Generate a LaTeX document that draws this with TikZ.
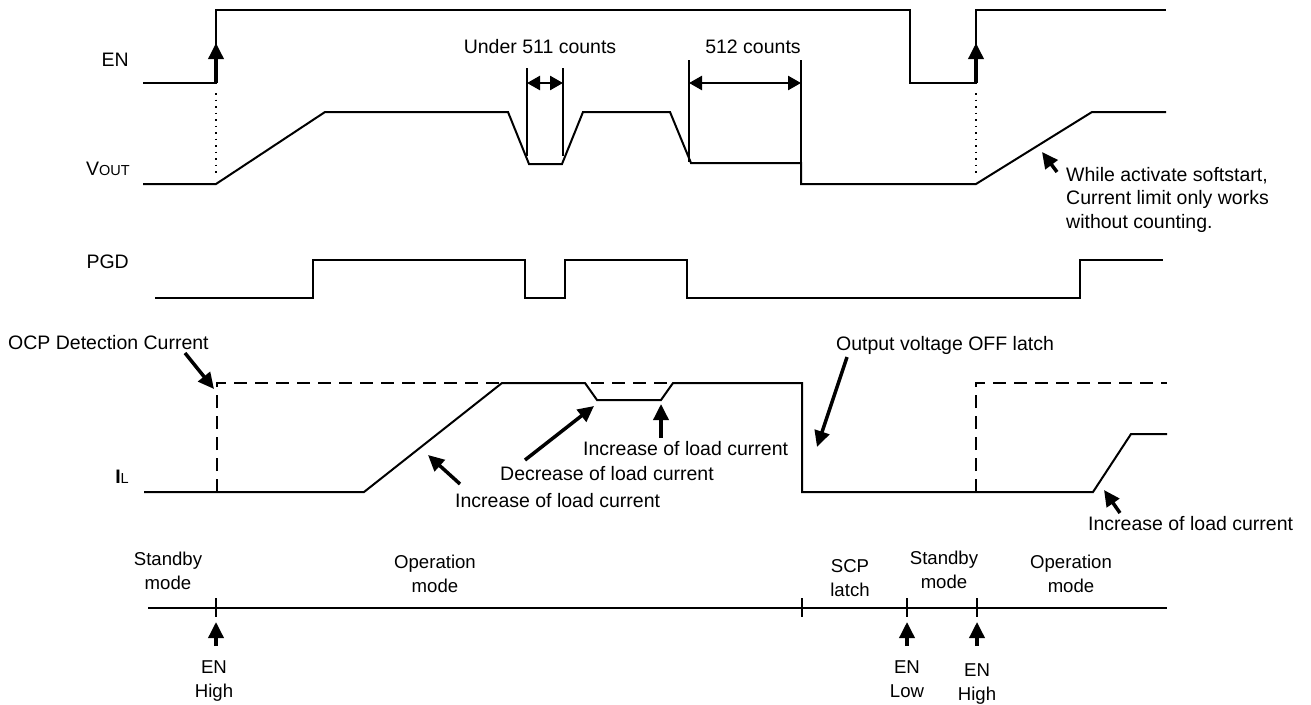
\documentclass[tikz,border=0pt]{standalone}
\usepackage{fontspec}
\setmainfont{Liberation Sans}
\usetikzlibrary{arrows.meta}
\newcommand{\mainsize}{\fontsize{19.5}{23.5}\selectfont}
\newcommand{\modesize}{\fontsize{18.6}{24}\selectfont}
\newcommand{\subtxt}[1]{{\fontsize{14.5}{14.5}\selectfont #1}}

\begin{document}
\begin{tikzpicture}[x=1pt,y=-1pt,font=\mainsize,
  sig/.style={line width=2pt,line join=miter},
  ocp/.style={line width=2pt,dash pattern=on 13pt off 8pt},
  vdot/.style={line width=1.5pt,dash pattern=on 1.5pt off 5pt},
  callout/.style={-{Triangle[length=16pt,width=15pt]},line width=3.5pt},
  span/.style={{Triangle[length=13pt,width=14pt]}-{Triangle[length=13pt,width=14pt]},line width=2.5pt},
  lbl/.style={inner sep=0pt},
  md/.style={inner sep=0pt,align=center,anchor=north,font=\modesize}]
  \useasboundingbox (0,0) rectangle (1311,704);

  % signal names
  \node[lbl,anchor=base east] (en) at (129,66) {EN};
  \node[lbl,anchor=base east] (vout) at (130,175) {V\subtxt{OUT}};
  \node[lbl,anchor=base east] (pgd) at (129,268) {PGD};
  \node[lbl,anchor=base east] (il) at (129,483) {\textbf{I}\subtxt{L}};

  % EN
  \draw[sig] (143,83) -- (216,83) -- (216,10) -- (910,10) -- (910,83) -- (976,83) -- (976,10) -- (1166,10);
  \draw[callout] (216,83) -- (216,43);
  \draw[callout] (976,83) -- (976,43);
  \draw[vdot] (216,93) -- (216,176);
  \draw[vdot] (976,93) -- (976,176);

  % VOUT
  \draw[sig] (143,184) -- (216,184) -- (325,112) -- (508,112) -- (529,164) -- (562,164) -- (583,112)
    -- (670,112) -- (691,163) -- (801,163) -- (801,184) -- (976,184) -- (1092,112) -- (1166,112);

  % counting spans
  \draw[sig] (527,68) -- (527,156) (563,68) -- (563,156);
  \draw[span] (527,83) -- (563,83);
  \node[lbl,anchor=base] (c511) at (540,53) {Under 511 counts};
  \draw[sig] (689,60) -- (689,162) (801,60) -- (801,163);
  \draw[span] (689,83) -- (801,83);
  \node[lbl,anchor=base] (c512) at (753,53) {512 counts};

  % softstart note
  \node[lbl,anchor=north west,align=left] (soft) at (1066,167) {While activate softstart,\\Current limit only works\\without counting.};
  \draw[callout] (1057,172) -- (1042,152);

  % PGD
  \draw[sig] (155,298) -- (313,298) -- (313,260) -- (525,260) -- (525,298) -- (565,298) -- (565,260)
    -- (687,260) -- (687,298) -- (1080,298) -- (1080,260) -- (1163,260);

  % IL and OCP level
  \draw[ocp] (217,492) -- (217,383) -- (802,383);
  \draw[ocp] (976,492) -- (976,383) -- (1167,383);
  \draw[sig] (144,492) -- (364,492) -- (502,383) -- (585,383) -- (597,400) -- (661,400) -- (673,383)
    -- (802,383) -- (802,492) -- (1093,492) -- (1131,434) -- (1167,434);

  \node[lbl,anchor=base west] (ocpl) at (8,349) {OCP Detection Current};
  \draw[callout] (185,353) -- (214,389);
  \node[lbl,anchor=base west] (inc1) at (455,507) {Increase of load current};
  \draw[callout] (460,484) -- (428,455);
  \node[lbl,anchor=base west] (dec) at (500,480) {Decrease of load current};
  \draw[callout] (525,460) -- (594,406);
  \node[lbl,anchor=base west] (inc2) at (583,455) {Increase of load current};
  \draw[callout] (661,438) -- (661,404);
  \node[lbl,anchor=base] (off) at (945,350) {Output voltage OFF latch};
  \draw[callout] (847,357) -- (817,447);
  \node[lbl,anchor=base west] (inc3) at (1088,530) {Increase of load current};
  \draw[callout] (1120,513) -- (1104,490);

  % mode timeline
  \draw[sig] (148,608) -- (1167,608);
  \foreach \t in {216,802,907,977}
    \draw[line width=1.6pt] (\t,598) -- (\t,617);
  \node[md] (stb1) at (168,552) {Standby\\mode};
  \node[md] (op1) at (435,555) {Operation\\mode};
  \node[md] (scp) at (850,559) {SCP\\latch};
  \node[md] (stb2) at (944,551) {Standby\\mode};
  \node[md] (op2) at (1071,555) {Operation\\mode};

  \draw[callout] (216,646) -- (216,622);
  \draw[callout] (907,646) -- (907,622);
  \draw[callout] (977,646) -- (977,622);
  \node[md] (enh1) at (214,660) {EN\\High};
  \node[md] (enl) at (907,660) {EN\\Low};
  \node[md] (enh2) at (977,663) {EN\\High};
\end{tikzpicture}
\end{document}
